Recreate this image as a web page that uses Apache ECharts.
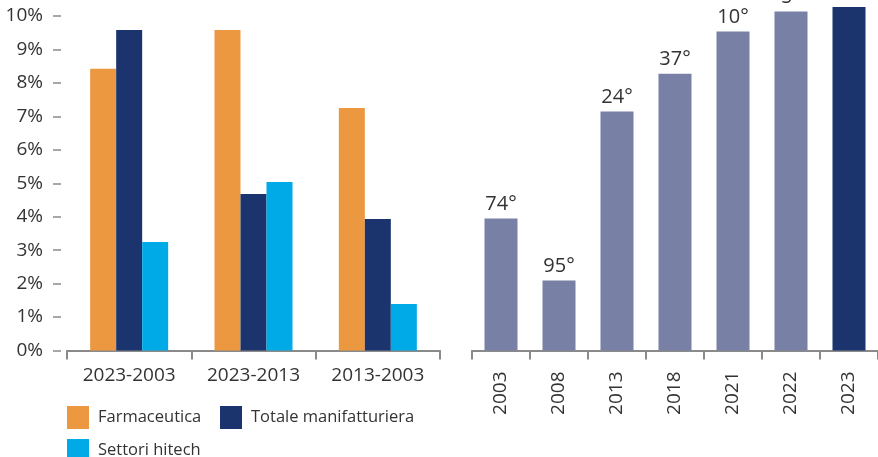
<!DOCTYPE html>
<html>
<head>
<meta charset="utf-8">
<style>
  html, body { margin: 0; padding: 0; background: #ffffff; }
  #chart { width: 878px; height: 457px; }
</style>
<script src="https://cdn.jsdelivr.net/npm/echarts@6/dist/echarts.min.js"></script>
</head>
<body>
<div id="chart"></div>
<script>
// Tassi di crescita medi annui per periodo (%)
const periods = ['2023-2003', '2023-2013', '2013-2003'];
const farmaceutica = [8.42, 9.58, 7.25];
const totaleManifatturiera = [9.58, 4.68, 3.93];
const settoriHitech = [3.24, 5.04, 1.39];
const percentTicks = [0, 1, 2, 3, 4, 5, 6, 7, 8, 9, 10];

// Indice per anno con posizione in graduatoria
const years = ['2003', '2008', '2013', '2018', '2021', '2022', '2023'];
const indexValues = [38.4, 20.4, 69.6, 80.6, 92.9, 98.7, 100];
const ranks = ['74°', '95°', '24°', '37°', '10°', '5°', '2°'];

const FONT = '"Open Sans", "Noto Sans", sans-serif';
const TEXT = '#333333';
const AXIS = '#8a8a8a';
const C_FARMA = '#EB9841';
const C_TOT = '#1B346E';
const C_HITECH = '#00AAE6';
const C_YEAR = '#7880A6';

const chart = echarts.init(document.getElementById('chart'), null, { renderer: 'canvas' });

const legendBase = {
  orient: 'horizontal',
  padding: 0,
  itemWidth: 22,
  itemHeight: 23,
  icon: 'rect',
  selectedMode: false,
  textStyle: { fontFamily: FONT, fontSize: 16.5, color: TEXT, padding: [0, 0, 0, 4] }
};

const option = {
  animation: false,
  backgroundColor: '#ffffff',
  textStyle: { fontFamily: FONT },
  legend: [
    Object.assign({}, legendBase, { data: ['Farmaceutica'], left: 67, top: 406 }),
    Object.assign({}, legendBase, { data: ['Totale manifatturiera'], left: 220, top: 406 }),
    Object.assign({}, legendBase, { data: ['Settori hitech'], left: 67, top: 439 })
  ],
  grid: [
    { left: 67, top: 16, width: 373, height: 334.5, containLabel: false },
    { left: 472, top: 7, width: 409.5, height: 343.5, containLabel: false }
  ],
  xAxis: [
    {
      type: 'category',
      gridIndex: 0,
      data: periods,
      axisLine: { show: true, lineStyle: { color: AXIS, width: 2 } },
      axisTick: { show: true, length: 9, lineStyle: { color: AXIS, width: 2 } },
      axisLabel: { color: TEXT, fontFamily: FONT, fontSize: 19, margin: 16 }
    },
    {
      type: 'category',
      gridIndex: 1,
      data: years,
      axisLine: { show: true, lineStyle: { color: AXIS, width: 2 } },
      axisTick: { show: true, length: 9, lineStyle: { color: AXIS, width: 2 } },
      axisLabel: { color: TEXT, fontFamily: FONT, fontSize: 19, rotate: 90, margin: 21 }
    }
  ],
  yAxis: [
    {
      type: 'value',
      gridIndex: 0,
      min: percentTicks[0],
      max: percentTicks[percentTicks.length - 1],
      interval: 1,
      offset: 6,
      axisLine: { show: false },
      axisTick: { show: true, length: 8, lineStyle: { color: AXIS, width: 1.5 } },
      splitLine: { show: false },
      axisLabel: { color: TEXT, fontFamily: FONT, fontSize: 19, margin: 18, formatter: '{value}%' }
    },
    {
      type: 'value',
      gridIndex: 1,
      min: 0,
      max: 100,
      show: false,
      splitLine: { show: false }
    }
  ],
  series: [
    {
      name: 'Farmaceutica', type: 'bar', xAxisIndex: 0, yAxisIndex: 0,
      data: farmaceutica, barWidth: 26, barGap: '0%',
      itemStyle: { color: C_FARMA }
    },
    {
      name: 'Totale manifatturiera', type: 'bar', xAxisIndex: 0, yAxisIndex: 0,
      data: totaleManifatturiera, barWidth: 26, barGap: '0%',
      itemStyle: { color: C_TOT }
    },
    {
      name: 'Settori hitech', type: 'bar', xAxisIndex: 0, yAxisIndex: 0,
      data: settoriHitech, barWidth: 26, barGap: '0%',
      itemStyle: { color: C_HITECH }
    },
    {
      name: 'Posizione', type: 'bar', xAxisIndex: 1, yAxisIndex: 1,
      barWidth: 33,
      data: indexValues.map((v, i) => ({
        value: v,
        itemStyle: { color: i === indexValues.length - 1 ? C_TOT : C_YEAR }
      })),
      label: {
        show: true,
        position: 'top',
        distance: 4,
        color: TEXT,
        fontFamily: FONT,
        fontSize: 20,
        formatter: (p) => ranks[p.dataIndex]
      }
    }
  ]
};

chart.setOption(option);
</script>
</body>
</html>
